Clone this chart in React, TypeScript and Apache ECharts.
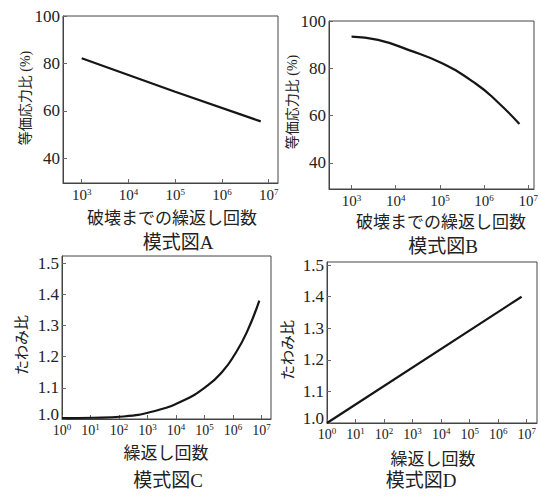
import React, { useEffect, useRef } from "react";
import * as echarts from "echarts";

// Panel A: equivalent stress ratio (%) vs log10(cycles to failure)
const aExp = [3, 5, 6.83];
const aVal = [82.2, 68.0, 55.5];
// Panel B
const bExp = [3, 3.6, 4.3, 5.05, 5.8, 6.3, 6.8];
const bVal = [93.4, 92.0, 87.7, 82.1, 73.7, 65.9, 56.5];
// Panel C: deflection ratio vs log10(cycles)
const cExp = [0, 1.1, 2.15, 3.18, 4.2, 5.1, 5.65, 6.03, 6.48, 6.92];
const cVal = [1.003, 1.004, 1.008, 1.024, 1.057, 1.107, 1.155, 1.203, 1.278, 1.38];
// Panel D
const dExp = [0, 6.82];
const dVal = [1.0, 1.4];

const stressTicks = [40, 60, 80, 100];
const ratioTicks = [1.0, 1.1, 1.2, 1.3, 1.4, 1.5];
const expTicksAB = [3, 4, 5, 6, 7];
const expTicksCD = [0, 1, 2, 3, 4, 5, 6, 7];

const yNameStress = "等価応力比 (%)";
const yNameRatio = "たわみ比";
const xNameFail = "破壊までの繰返し回数";
const xNameCycles = "繰返し回数";
const titles = ["模式図A", "模式図B", "模式図C", "模式図D"];

const SERIF = "Liberation Serif";
const FONT = "Liberation Serif, Noto Sans CJK JP";
const TXT = "#222";
const FRAME = "#444";

export default function App() {
  const ref = useRef<HTMLDivElement>(null);
  useEffect(() => {
    if (!ref.current) return;
    const chart = echarts.init(ref.current, undefined, { renderer: "svg" });

    const grids = [
      { left: 63, top: 16, width: 215, height: 167 },
      { left: 329, top: 21, width: 210, height: 168 },
      { left: 62, top: 256, width: 209, height: 163 },
      { left: 327, top: 262, width: 210, height: 161 },
    ].map((g) => ({ ...g, show: true, borderColor: FRAME, borderWidth: 1, backgroundColor: "transparent" }));

    const xRanges = [
      [2.6, 7.2],
      [2.49, 7.13],
      [0, 7.33],
      [0, 7.36],
    ];
    const yRanges = [
      [29.5, 100],
      [29, 100],
      [1.0, 1.523],
      [1.0, 1.51],
    ];

    const xAxis = xRanges.map((r, i) => {
      const ticks = i < 2 ? expTicksAB : expTicksCD;
      return {
        gridIndex: i,
        type: "value",
        min: r[0],
        max: r[1],
        axisLine: { show: true, lineStyle: { color: FRAME, width: 1 } },
        axisTick: { show: true, inside: true, length: 4, customValues: ticks, lineStyle: { color: "#666" } },
        splitLine: { show: false },
        axisLabel: {
          customValues: ticks,
          margin: i < 2 ? 4 : 3,
          color: TXT,
          fontFamily: SERIF,
          formatter: (v: number) => `{b|10}{s|${Math.round(v)}}`,
          rich: {
            b: { fontFamily: SERIF, fontSize: i < 2 ? 15 : 14, color: TXT },
            s: { fontFamily: SERIF, fontSize: 9, color: TXT, padding: [0, 0, 7, 0] },
          },
        },
      };
    });

    const yAxis = yRanges.map((r, i) => {
      const ticks = i < 2 ? stressTicks : ratioTicks;
      return {
        gridIndex: i,
        type: "value",
        min: r[0],
        max: r[1],
        axisLine: { show: true, lineStyle: { color: FRAME, width: 1 } },
        axisTick: { show: true, inside: true, length: 4, customValues: ticks, lineStyle: { color: "#666" } },
        splitLine: { show: false },
        axisLabel: {
          customValues: ticks,
          margin: 3,
          color: TXT,
          fontFamily: SERIF,
          fontSize: 17,
          formatter: (v: number) =>
            i < 2 ? String(Math.round(v)) : Math.abs(v - 1) < 1e-9 ? `{lo|${v.toFixed(1)}}` : v.toFixed(1),
          rich: {
            lo: { fontFamily: SERIF, fontSize: 17, color: TXT, padding: [0, 0, 10, 0] },
          },
        },
      };
    });

    const mk = (xs: number[], ys: number[]) => xs.map((x, k) => [x, ys[k]]);
    const seriesData = [mk(aExp, aVal), mk(bExp, bVal), mk(cExp, cVal), mk(dExp, dVal)];
    const series = seriesData.map((d, i) => ({
      type: "line",
      xAxisIndex: i,
      yAxisIndex: i,
      data: d,
      showSymbol: false,
      smooth: i === 1 || i === 2 ? 0.5 : false,
      lineStyle: { color: "#151515", width: 2.2 },
      silent: true,
    }));

    const txt = (text: string, x: number, y: number, size: number, rot = 0) => ({
      type: "text",
      x,
      y,
      rotation: rot,
      style: {
        text,
        fontFamily: FONT,
        fontSize: size,
        fill: TXT,
        align: "center",
        verticalAlign: "middle",
      },
    });

    const graphic = [
      txt(yNameStress, 25, 98, 14, Math.PI / 2),
      txt(yNameStress, 292, 102, 14, Math.PI / 2),
      txt(yNameRatio, 22, 345, 15, Math.PI / 2),
      txt(yNameRatio, 288, 350, 15, Math.PI / 2),
      txt(xNameFail, 172, 218, 17),
      txt(xNameFail, 441, 222, 17),
      txt(xNameCycles, 166, 453, 17),
      txt(xNameCycles, 433, 459, 17),
      txt(titles[0], 178, 242, 19),
      txt(titles[1], 443, 246, 19),
      txt(titles[2], 168, 480, 19),
      txt(titles[3], 421, 480, 19),
    ];

    chart.setOption({
      animation: false,
      backgroundColor: "#fff",
      grid: grids,
      xAxis,
      yAxis,
      series,
      graphic,
    });
    return () => chart.dispose();
  }, []);

  return (
    <div
      ref={ref}
      style={{ position: "fixed", left: 0, top: 0, width: 541, height: 497, background: "#fff" }}
    />
  );
}
